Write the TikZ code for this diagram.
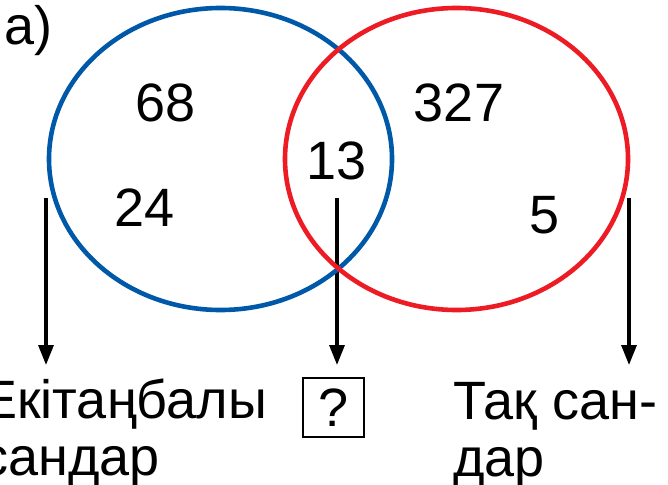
\documentclass[tikz,border=0pt]{standalone}
\usepackage{fontspec}
\setmainfont{Liberation Sans}
\usetikzlibrary{arrows.meta}
\definecolor{vblue}{RGB}{0,88,168}
\definecolor{vred}{RGB}{237,28,36}
\begin{document}
\begin{tikzpicture}[x=1pt,y=-1pt,
  num/.style={font=\fontsize{54}{57}\selectfont, inner sep=0pt},
  lbl/.style={font=\fontsize{54}{57}\selectfont, inner sep=0pt, align=left},
  pointer/.style={line width=3.2pt, -{Triangle[length=20pt,width=15pt]}},
  setb/.style={draw=vblue, line width=4.6pt},
  setr/.style={draw=vred, line width=4.6pt},
  qbox/.style={draw, line width=1.4pt, minimum width=61pt, minimum height=59pt, inner sep=0pt, font=\fontsize{54}{57}\selectfont}]
\useasboundingbox (0,0) rectangle (668,484);
% pointers
\coordinate (s1) at (46,198);
\coordinate (e1) at (46,365);
\coordinate (s2) at (337,198);
\coordinate (e2) at (337,365);
\coordinate (s3) at (629,198);
\coordinate (e3) at (629,365);
\draw[pointer] (s1) -- (e1);
\draw[pointer] (s2) -- (e2);
\draw[pointer] (s3) -- (e3);
% sets
\draw[setb] (220.5,159) ellipse [x radius=171.5, y radius=151];
\draw[setr] (456.5,159) ellipse [x radius=171.5, y radius=151];
% label
\node[num, anchor=base west] (part) at (4,45) {а)};
% numbers
\node[num] (n68) at (166,103) {68};
\node[num] (n24) at (145,208) {24};
\node[num] (n13) at (337,161) {13};
\node[num] (n327) at (459,103) {327};
\node[num] (n5) at (545,215) {5};
% bottom labels
\node[lbl, anchor=base west] (even) at (-19,475) {Екітаңбалы\\сандар};
\node[qbox] (q) at (333.5,407.5) {?};
\node[lbl, anchor=base west] (odd) at (453,476) {Тақ сан-\\дар};
\end{tikzpicture}
\end{document}
